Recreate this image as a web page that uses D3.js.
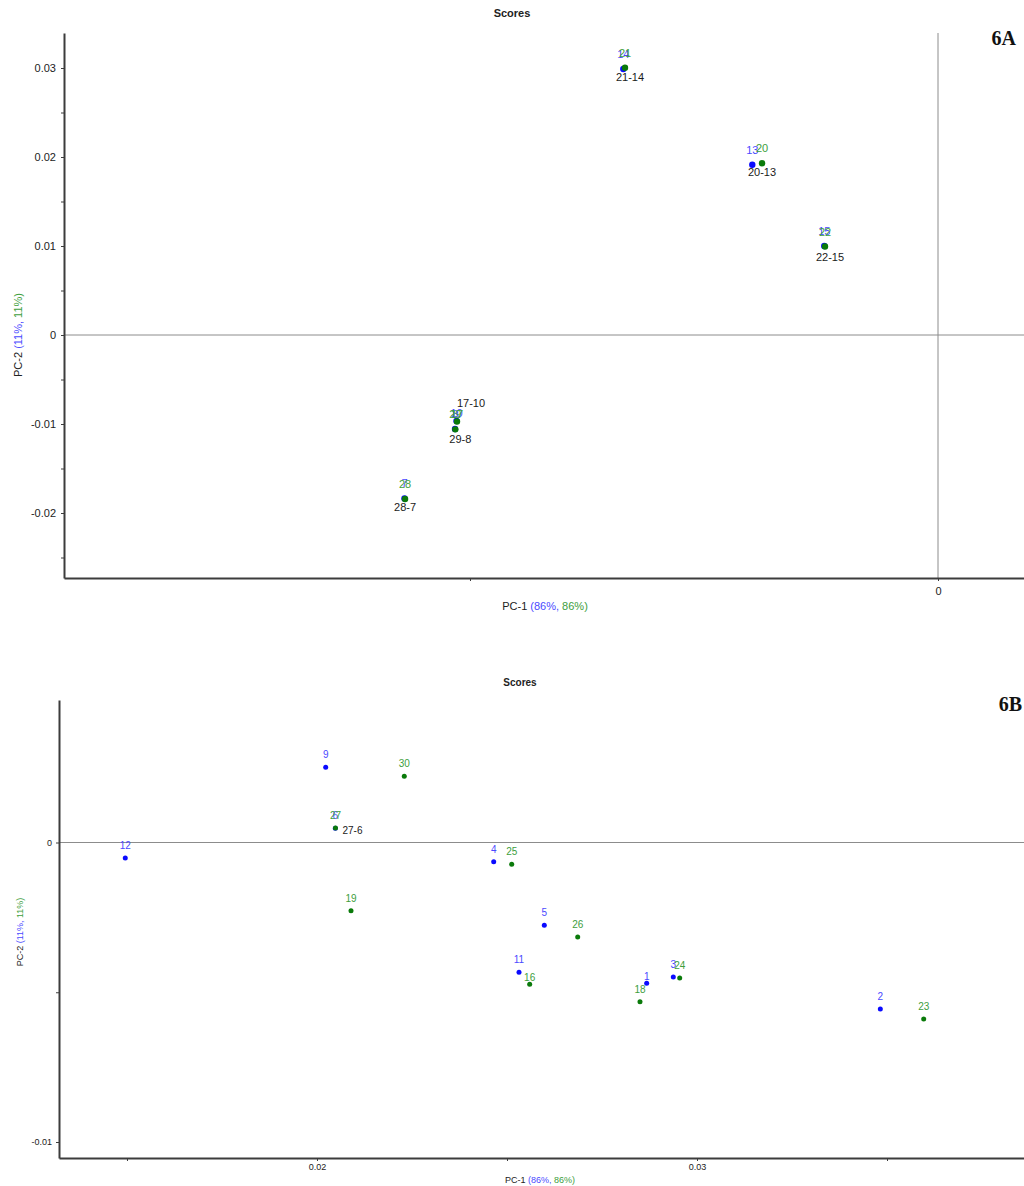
<!DOCTYPE html>
<html>
<head>
<meta charset="utf-8">
<script src="https://cdn.jsdelivr.net/npm/d3@7"></script>
<style>
  body { margin: 0; background: #fff; }
  svg { display: block; }
  text { font-family: "Liberation Sans", Arial, sans-serif; }
</style>
</head>
<body>
<svg id="fig" width="1024" height="1186"></svg>
<script>
// ---- Panel 6A: PCA scores ----
const samplesA = [14, 21, 13, 20, 15, 22, 10, 17, 8, 29, 7, 28];
const pc1A = [-0.03362, -0.03344, -0.01984, -0.01880, -0.01215, -0.01207,
              -0.05144, -0.05139, -0.05160, -0.05157, -0.05700, -0.05694];
const pc2A = [0.02989, 0.03003, 0.01913, 0.01929, 0.01000, 0.00994,
              -0.00966, -0.00972, -0.01056, -0.01060, -0.01837, -0.01843];
const pairLabelsA = ["21-14", "20-13", "22-15", "17-10", "29-8", "28-7"];
const pairAnchorsA = [21, 20, 22, 17, 29, 28];
const yTicksA = [0.03, 0.02, 0.01, 0, -0.01, -0.02];
const xTicksA = [0];

// ---- Panel 6B: PCA scores ----
const samplesB = [12, 9, 30, 6, 27, 19, 4, 25, 5, 26, 11, 16, 1, 18, 3, 24, 2, 23];
const pc1B = [0.014955, 0.020229, 0.022297, 0.020482, 0.020487, 0.020895,
              0.024650, 0.025124, 0.025982, 0.026861, 0.025316, 0.025597,
              0.028676, 0.028500, 0.029376, 0.029545, 0.034824, 0.035966];
const pc2B = [-0.000518, 0.002511, 0.002210, 0.000474, 0.000484, -0.002277,
              -0.000641, -0.000728, -0.002765, -0.003155, -0.004334, -0.004735,
              -0.004701, -0.005316, -0.004491, -0.004524, -0.005559, -0.005893];
const pairLabelsB = ["27-6"];
const pairAnchorsB = [27];
const yTicksB = [0, -0.01];
const xTicksB = [0.02, 0.03];

// Samples 1-15 form the first (blue) set, 16-30 the second (green) set.
const BLUE_DOT = "#0a0aff", GREEN_DOT = "#0a7a0a";
const BLUE_TXT = "#4a4aff", GREEN_TXT = "#3d9e3d";
const AXIS = "#3c3c3c";

const svg = d3.select("#fig");

function fmt(d) { return d === 0 ? "0" : String(+d.toFixed(3)); }

function drawPanel(o) {
  const g = svg.append("g");
  const x = d3.scaleLinear().domain(o.xDomain).range([o.left, o.right]);
  const y = d3.scaleLinear().domain(o.yDomain).range([o.bottom, o.top]);

  // zero reference lines
  g.append("line").attr("x1", o.left).attr("x2", o.right)
    .attr("y1", y(0)).attr("y2", y(0)).attr("stroke", "#8c8c8c").attr("stroke-width", 1);
  if (x.domain()[0] < 0 && x.domain()[1] > 0) {
    g.append("line").attr("x1", x(0)).attr("x2", x(0))
      .attr("y1", o.top).attr("y2", o.bottom).attr("stroke", "#8c8c8c").attr("stroke-width", 1);
  }

  // axes: labelled major ticks plus unlabelled half-step ticks
  const yAll = o.yMinor.concat(o.yTicks);
  const yAxis = d3.axisLeft(y).tickValues(yAll).tickSize(3).tickSizeOuter(0)
    .tickPadding(o.yPad).tickFormat(d => o.yTicks.includes(d) ? fmt(d) : "");
  const ya = g.append("g").attr("transform", `translate(${o.left},0)`).call(yAxis);

  const xAll = o.xMinor.concat(o.xTicks);
  const xAxis = d3.axisBottom(x).tickValues(xAll).tickSize(3).tickSizeOuter(0)
    .tickPadding(o.xPad).tickFormat(d => o.xTicks.includes(d) ? fmt(d) : "");
  const xa = g.append("g").attr("transform", `translate(0,${o.bottom})`).call(xAxis);

  [ya, xa].forEach(a => {
    a.select(".domain").attr("stroke", AXIS).attr("stroke-width", 2);
    a.selectAll(".tick line").attr("stroke", AXIS);
    a.selectAll(".tick text").attr("fill", "#222").style("font-size", o.tickFont + "px")
      .style("font-family", "'Liberation Sans', Arial, sans-serif");
  });

  // title
  g.append("text").attr("x", o.titleX).attr("y", o.titleY).attr("text-anchor", "middle")
    .style("font-size", o.titleFont + "px").style("font-weight", "bold").attr("fill", "#222")
    .text("Scores");

  // panel tag
  g.append("text").attr("x", o.tagX).attr("y", o.tagY).attr("text-anchor", "end")
    .style("font-family", "'Liberation Serif', 'Times New Roman', serif")
    .style("font-size", "20px").style("font-weight", "bold").attr("fill", "#111")
    .text(o.tag);

  // axis titles with coloured explained-variance parts
  const xt = g.append("text").attr("x", o.xTitleX).attr("y", o.xTitleY)
    .attr("text-anchor", "middle").style("font-size", o.axisFont + "px");
  xt.append("tspan").attr("fill", "#222").text("PC-1 ");
  xt.append("tspan").attr("fill", BLUE_TXT).text("(86%, ");
  xt.append("tspan").attr("fill", GREEN_TXT).text("86%)");

  const yt = g.append("text")
    .attr("transform", `translate(${o.yTitleX},${o.yTitleY}) rotate(-90)`)
    .attr("text-anchor", "middle").style("font-size", o.axisFont + "px");
  yt.append("tspan").attr("fill", "#222").text("PC-2 ");
  yt.append("tspan").attr("fill", BLUE_TXT).text("(11%, ");
  yt.append("tspan").attr("fill", GREEN_TXT).text("11%)");

  // points: blue set first, green drawn over it
  const pts = o.ids.map((id, i) => ({ id, px: o.pc1[i], py: o.pc2[i], second: id > 15 }));
  const ordered = pts.filter(p => !p.second).concat(pts.filter(p => p.second));

  g.selectAll("circle.pt").data(ordered).join("circle").attr("class", "pt")
    .attr("cx", d => x(d.px)).attr("cy", d => y(d.py)).attr("r", o.r)
    .attr("fill", d => d.second ? GREEN_DOT : BLUE_DOT);

  g.selectAll("text.num").data(ordered).join("text").attr("class", "num")
    .attr("x", d => x(d.px)).attr("y", d => y(d.py) + (o.numDy[d.id] ?? o.numDyDefault))
    .attr("text-anchor", "middle").attr("dominant-baseline", "central")
    .style("font-size", o.numFont + "px")
    .attr("fill", d => d.second ? GREEN_TXT : BLUE_TXT)
    .text(d => d.id);

  // labels naming matched sample pairs
  o.pairLabels.forEach((lab, i) => {
    const p = pts.find(q => q.id === o.pairAnchors[i]);
    const off = o.pairOffsets[lab];
    g.append("text").attr("x", x(p.px) + off[0]).attr("y", y(p.py) + off[1])
      .attr("text-anchor", off[2]).attr("dominant-baseline", "central")
      .style("font-size", o.numFont + "px").attr("fill", "#1a1a1a").text(lab);
  });
}

drawPanel({
  ids: samplesA, pc1: pc1A, pc2: pc2A,
  pairLabels: pairLabelsA, pairAnchors: pairAnchorsA,
  left: 64, right: 1024, top: 33, bottom: 578,
  xDomain: [-0.093376, 0.009188], yDomain: [-0.027303, 0.033933],
  yTicks: yTicksA, yMinor: [0.025, 0.015, 0.005, -0.005, -0.015, -0.025],
  xTicks: xTicksA, xMinor: [-0.05],
  yPad: 5, xPad: 6, tickFont: 11,
  titleX: 512, titleY: 17, titleFont: 11,
  tag: "6A", tagX: 1016, tagY: 45,
  xTitleX: 545, xTitleY: 610, yTitleX: 22, yTitleY: 335, axisFont: 11,
  r: 3.2, numFont: 11, numDyDefault: -15, numDy: { 10: -8, 17: -8 },
  pairOffsets: {
    "21-14": [5, 9, "middle"], "20-13": [0, 9, "middle"], "22-15": [5, 10, "middle"],
    "17-10": [14, -19, "middle"], "29-8": [5, 10, "middle"], "28-7": [0, 8, "middle"]
  }
});

drawPanel({
  ids: samplesB, pc1: pc1B, pc2: pc2B,
  pairLabels: pairLabelsB, pairAnchors: pairAnchorsB,
  left: 59, right: 1024, top: 700, bottom: 1158,
  xDomain: [0.013211, 0.038605], yDomain: [-0.010534, 0.004758],
  yTicks: yTicksB, yMinor: [-0.005],
  xTicks: xTicksB, xMinor: [0.015, 0.025, 0.035],
  yPad: 4, xPad: 3, tickFont: 9,
  titleX: 520, titleY: 686, titleFont: 10,
  tag: "6B", tagX: 1022, tagY: 711,
  xTitleX: 540, xTitleY: 1183, yTitleX: 23, yTitleY: 932, axisFont: 9,
  r: 2.5, numFont: 10, numDyDefault: -12.5, numDy: { 16: -6.5, 1: -6.5 },
  pairOffsets: { "27-6": [7, 2, "start"] }
});
</script>
</body>
</html>
